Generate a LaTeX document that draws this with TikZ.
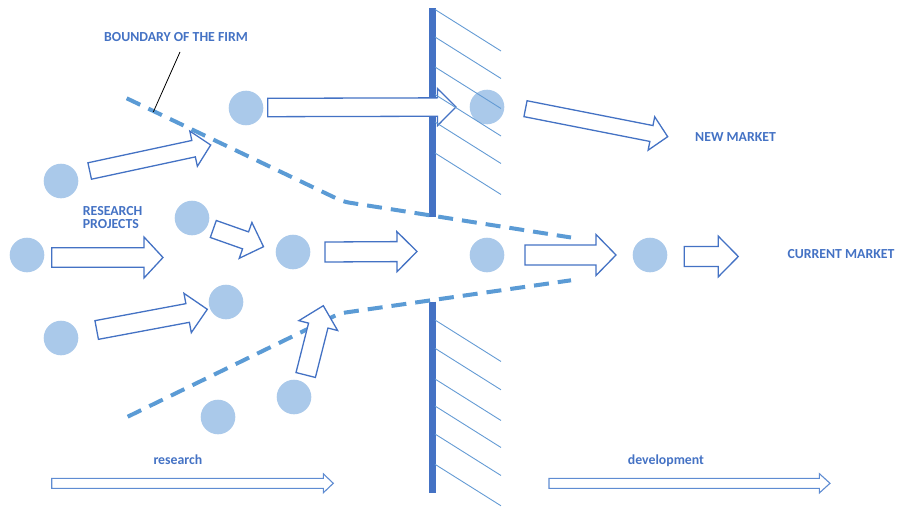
\documentclass[tikz,border=0pt]{standalone}
\usepackage{fontspec}
\setmainfont{Carlito}
\usetikzlibrary{calc}
\definecolor{txtblue}{RGB}{68,114,196}
\definecolor{arrblue}{RGB}{68,114,196}
\definecolor{dashblue}{RGB}{91,155,213}
\definecolor{dotblue}{RGB}{170,201,234}
\definecolor{hatchblue}{RGB}{100,155,212}
\definecolor{axisblue}{RGB}{95,140,210}
% block arrow: [style]{start}{tip}{shaft half width}{head half width}{head length}
\newcommand\barr[6][barrow]{%
\draw[#1] let \p1=(#2),\p2=(#3),\n1={atan2(\y2-\y1,\x2-\x1)},\n2={veclen(\x2-\x1,\y2-\y1)-#6} in
 ($(\p1)+({\n1+90}:{#4})$) --
 ($(\p1)+(\n1:{\n2*1pt})+({\n1+90}:{#4})$) --
 ($(\p1)+(\n1:{\n2*1pt})+({\n1+90}:{#5})$) --
 (\p2) --
 ($(\p1)+(\n1:{\n2*1pt})+({\n1-90}:{#5})$) --
 ($(\p1)+(\n1:{\n2*1pt})+({\n1-90}:{#4})$) --
 ($(\p1)+({\n1-90}:{#4})$) -- cycle;}
\begin{document}
\begin{tikzpicture}[x=1pt,y=-1pt,
  dot/.style={circle,fill=dotblue,draw=none,minimum size=34.6pt,inner sep=0pt},
  barrow/.style={draw=arrblue,fill=white,line width=1.3pt,line join=miter},
  axisarrow/.style={draw=axisblue,fill=white,line width=1.1pt},
  boundary/.style={draw=dashblue,line width=4pt,dash pattern=on 15pt off 9pt,rounded corners=6pt},
  wall/.style={draw=arrblue,line width=7pt},
  hatch/.style={draw=hatchblue,line width=0.9pt},
  lbl/.style={text=txtblue,font=\fontsize{13.8}{14}\selectfont\bfseries,inner sep=0pt,anchor=base west}]
\useasboundingbox (0,0) rectangle (907,516);
% wall
\coordinate (w1) at (432,8.3); \coordinate (w2) at (432,216.7);
\coordinate (w3) at (432,301.7); \coordinate (w4) at (432,493.3);
\draw[wall] (w1) -- (w2);
\draw[wall] (w3) -- (w4);
% boundary of the firm
\coordinate (u1) at (126.7,98.3); \coordinate (u2) at (343.3,201.7); \coordinate (u3) at (571,237.5);
\coordinate (l1) at (127.7,416.7); \coordinate (l2) at (340,313.3); \coordinate (l3) at (571,280.3);
\draw[boundary] (u1) -- (u2) -- (u3);
\draw[boundary] (l1) -- (l2) -- (l3);
% circles
\node[dot] (c1) at (61,181) {};
\node[dot] (c2) at (27,255) {};
\node[dot] (c3) at (61,338) {};
\node[dot] (c4) at (192,218) {};
\node[dot] (c5) at (226,302) {};
\node[dot] (c6) at (293,252) {};
\node[dot] (c7) at (246,108) {};
\node[dot] (c8) at (487,107) {};
\node[dot] (c9) at (487,255) {};
\node[dot] (c10) at (650,255) {};
\node[dot] (c11) at (294,397) {};
\node[dot] (c12) at (218,417) {};
% arrow end points
\coordinate (a1s) at (89.7,171);   \coordinate (a1e) at (210.7,145);
\coordinate (a2s) at (267.7,107.5); \coordinate (a2e) at (456,107);
\coordinate (a3s) at (51.7,257.5); \coordinate (a3e) at (163,257.5);
\coordinate (a4s) at (213.3,229);  \coordinate (a4e) at (263.5,246.7);
\coordinate (a5s) at (325,252);    \coordinate (a5e) at (417,251.5);
\coordinate (a6s) at (96.7,330);   \coordinate (a6e) at (207.3,309.3);
\coordinate (a7s) at (305.7,375);  \coordinate (a7e) at (323.3,305.7);
\coordinate (a8s) at (525.5,108.7); \coordinate (a8e) at (667.7,136.7);
\coordinate (a9s) at (525,255);    \coordinate (a9e) at (616,255);
\coordinate (a10s) at (684.3,256.5); \coordinate (a10e) at (738.3,256.5);
\coordinate (rs) at (51.7,483.3);  \coordinate (re) at (333.3,483.3);
\coordinate (ds) at (549,483.3);   \coordinate (de) at (830,483.3);
% block arrows
\barr{a1s}{a1e}{8.4pt}{18pt}{17.5pt}
\barr{a2s}{a2e}{9.2pt}{18.5pt}{18.5pt}
\barr{a3s}{a3e}{9.8pt}{20.5pt}{19pt}
\barr{a4s}{a4e}{9pt}{19pt}{19pt}
\barr{a5s}{a5e}{10pt}{20pt}{20pt}
\barr{a6s}{a6e}{9.5pt}{20pt}{20pt}
\barr{a7s}{a7e}{10pt}{20pt}{20.5pt}
\barr{a8s}{a8e}{8.1pt}{17pt}{16.6pt}
\barr{a9s}{a9e}{10pt}{20.5pt}{20pt}
\barr{a10s}{a10e}{10pt}{20.3pt}{20pt}
\barr[axisarrow]{rs}{re}{5pt}{9.5pt}{10pt}
\barr[axisarrow]{ds}{de}{5pt}{9.7pt}{10.7pt}
% hatching
\foreach \yy in {9.5,37,67,94.5,122,153,320,348.3,379,406,434,464.3}{
  \draw[hatch] (435,\yy) -- ++(66,41.5);
}
% leader line
\coordinate (ld1) at (180,52); \coordinate (ld2) at (153.3,112);
\draw[black,line width=0.8pt] (ld1) -- (ld2);
% labels
\node[lbl] (tb) at (104,41.3) {BOUNDARY OF THE FIRM};
\node[lbl] (tr1) at (82.7,215) {RESEARCH};
\node[lbl] (tr2) at (82.7,228.7) {PROJECTS};
\node[lbl] (tn) at (695,141.7) {NEW MARKET};
\node[lbl] (tc) at (787.3,258.3) {CURRENT MARKET};
\node[lbl] (trs) at (153.3,464) {research};
\node[lbl] (tdv) at (627.7,464) {development};
\end{tikzpicture}
\end{document}
